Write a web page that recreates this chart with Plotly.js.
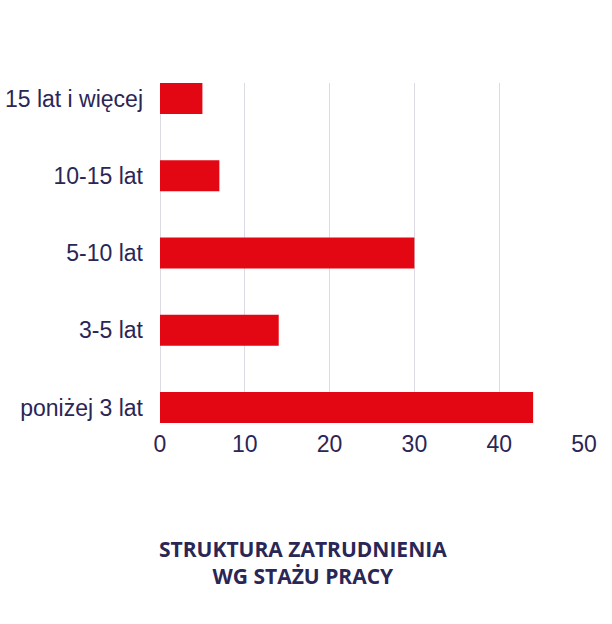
<!DOCTYPE html>
<html>
<head>
<meta charset="utf-8">
<script src="https://cdn.plot.ly/plotly-3.0.1.min.js"></script>
<style>html,body{margin:0;padding:0;background:#fff;}#chart{width:612px;height:624px;}</style>
</head>
<body>
<div id="chart"></div>
<script>
const categories = ["poniżej 3 lat", "3-5 lat", "5-10 lat", "10-15 lat", "15 lat i więcej"];
const values = [44, 14, 30, 7, 5];
const xTicks = [0, 10, 20, 30, 40, 50];
const chartTitle = "STRUKTURA ZATRUDNIENIA<br>WG STAŻU PRACY";

const textColor = "#2a2655";
const trace = {
  type: "bar",
  orientation: "h",
  y: categories,
  x: values,
  width: 0.4,
  marker: {color: "#e30613"},
  hoverinfo: "none"
};
const layout = {
  width: 612, height: 624,
  margin: {l: 160, r: 28, t: 83, b: 201},
  paper_bgcolor: "#fff", plot_bgcolor: "#fff",
  showlegend: false,
  font: {family: "Liberation Sans, Arial, sans-serif", size: 23, color: textColor},
  xaxis: {
    range: [0, 50], tickvals: xTicks, ticktext: xTicks.map(String),
    showgrid: true, gridcolor: "#dcdbe3", gridwidth: 1,
    zeroline: true, zerolinecolor: "#dcdbe3", zerolinewidth: 1,
    showline: false, ticks: "", ticklabelstandoff: 5,
    tickfont: {size: 23, color: textColor}, fixedrange: true
  },
  yaxis: {
    type: "category", categoryorder: "array", categoryarray: categories,
    range: [-0.2, 4.2],
    showgrid: false, zeroline: false, showline: false, ticks: "",
    ticklabelstandoff: 16,
    tickfont: {size: 23, color: textColor}, fixedrange: true
  },
  annotations: [{
    text: chartTitle, xref: "paper", yref: "paper",
    x: 0.337, y: -0.41, xanchor: "center", yanchor: "middle",
    showarrow: false, align: "center",
    font: {family: "Open Sans, sans-serif", size: 21, color: textColor, weight: 700}
  }]
};
Plotly.newPlot("chart", [trace], layout, {displayModeBar: false, staticPlot: true});
</script>
</body>
</html>
